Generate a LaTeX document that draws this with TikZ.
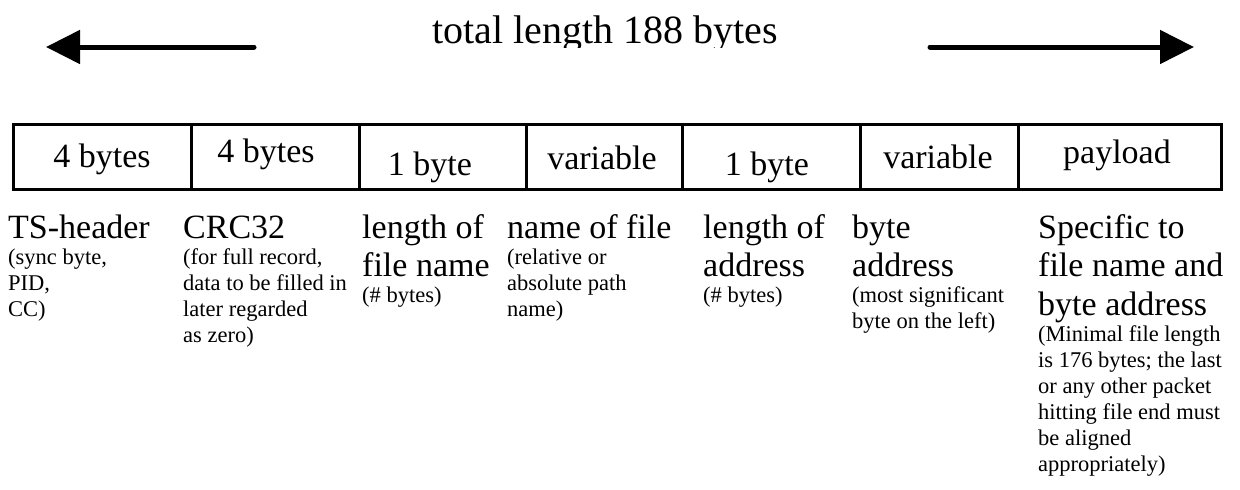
\documentclass[tikz,border=0pt]{standalone}
\usepackage{fontspec}
\setmainfont{Liberation Serif}
\usetikzlibrary{arrows.meta}
\newcommand\bigfnt{\fontsize{34}{38.5}\selectfont}
\newcommand\smallfnt{\fontsize{22.5}{26}\selectfont}
\newcommand\colbox[1]{\vtop{\lineskiplimit=-100pt\relax\lineskip=0pt\relax #1}}
\begin{document}
\begin{tikzpicture}[x=1pt,y=-1pt,
  cell/.style={draw, line width=3pt, inner sep=0pt, minimum height=64.5pt, anchor=center},
  celltxt/.style={anchor=base, inner sep=0pt, font=\fontsize{34}{39}\selectfont},
  desc/.style={anchor=base west, inner sep=0pt},
  titletxt/.style={anchor=base, inner sep=0pt, font=\fontsize{40}{46}\selectfont},
  bigarrow/.style={line width=5pt, line cap=round, -{Triangle[length=34pt,width=33pt]}}]
\fill[white] (0,0) rectangle (1240,490);
\useasboundingbox (0,0) rectangle (1240,490);

% title (clipped at the bottom as in the reference)
\begin{scope}
  \clip (0,0) rectangle (1240,47);
  \node[titletxt] (title) at (605,43) {total length 188 bytes};
\end{scope}

% arrows
\coordinate (la) at (254,47);
\coordinate (lb) at (46,47);
\coordinate (ra) at (930,47);
\coordinate (rb) at (1194,47);
\draw[bigarrow] (la) -- (lb);
\draw[bigarrow] (ra) -- (rb);

% record cells
\node[cell, minimum width=178pt] (c1) at (102,156.75) {};
\node[cell, minimum width=168pt] (c2) at (275,156.75) {};
\node[cell, minimum width=167pt] (c3) at (442.5,156.75) {};
\node[cell, minimum width=156pt] (c4) at (604,156.75) {};
\node[cell, minimum width=178pt] (c5) at (771,156.75) {};
\node[cell, minimum width=158pt] (c6) at (939,156.75) {};
\node[cell, minimum width=203pt] (c7) at (1119.5,156.75) {};

\node[celltxt] (t1) at (102,167) {4 bytes};
\node[celltxt] (t2) at (266,162) {4 bytes};
\node[celltxt] (t3) at (430,175) {1 byte};
\node[celltxt] (t4) at (602,169) {variable};
\node[celltxt] (t5) at (767,175) {1 byte};
\node[celltxt] (t6) at (938,168) {variable};
\node[celltxt] (t7) at (1117,163) {payload};

% descriptions
\node[desc] (d1) at (8,238) {\colbox{\bigfnt\hbox{TS-header}\smallfnt\hbox{(sync byte,}\hbox{PID,}\hbox{CC)}}};
\node[desc] (d2) at (183,238) {\colbox{\bigfnt\hbox{CRC32}\smallfnt\hbox{(for full record,}\hbox{data to be filled in}\hbox{later regarded}\hbox{as zero)}}};
\node[desc] (d3) at (362,238) {\colbox{\bigfnt\hbox{length of}\hbox{file name}\smallfnt\hbox{(\# bytes)}}};
\node[desc] (d4) at (507,238) {\colbox{\bigfnt\hbox{name of file}\smallfnt\hbox{(relative or}\hbox{absolute path}\hbox{name)}}};
\node[desc] (d5) at (703,238) {\colbox{\bigfnt\hbox{length of}\hbox{address}\smallfnt\hbox{(\# bytes)}}};
\node[desc] (d6) at (852,238) {\colbox{\bigfnt\hbox{byte}\hbox{address}\smallfnt\hbox{(most significant}\hbox{byte on the left)}}};
\node[desc] (d7) at (1038,238) {\colbox{\bigfnt\hbox{Specific to}\hbox{file name and}\hbox{byte address}\smallfnt\hbox{(Minimal file length}\hbox{is 176 bytes; the last}\hbox{or any other packet}\hbox{hitting file end must}\hbox{be aligned}\hbox{appropriately)}}};
\end{tikzpicture}
\end{document}
